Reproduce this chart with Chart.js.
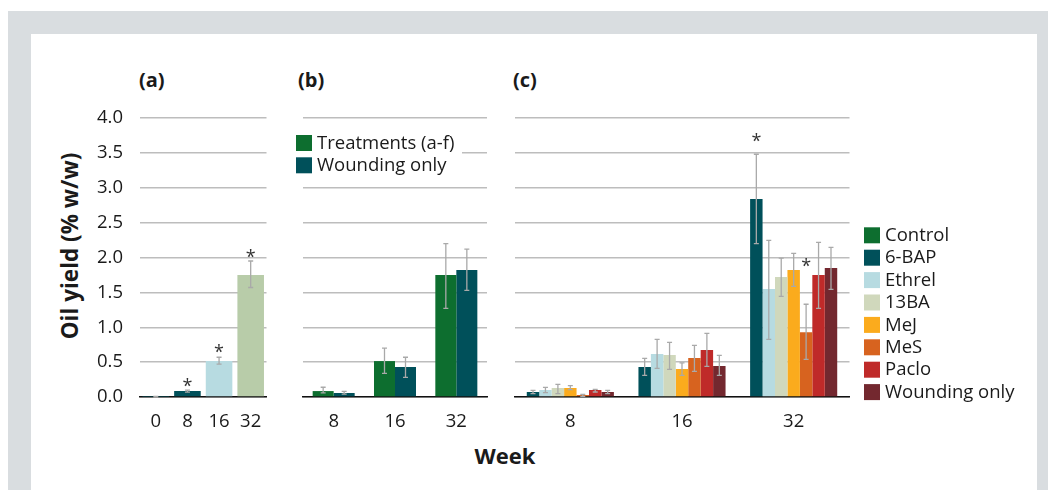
<!DOCTYPE html>
<html>
<head>
<meta charset="utf-8">
<script src="https://cdn.jsdelivr.net/npm/chart.js@4.4.1/dist/chart.umd.min.js"></script>
<style>
  body { margin: 0; width: 1048px; height: 490px; background: #fff; position: relative; overflow: hidden; font-family: 'Open Sans', sans-serif; }
  .frame { position: absolute; left: 8px; top: 11px; width: 1040px; height: 479px; background: #d9dde0; }
  .inner { position: absolute; left: 31px; top: 34px; width: 1006px; height: 456px; background: #fff; }
  canvas { position: absolute; }
  .lbl { position: absolute; font-weight: 700; font-size: 20px; line-height: 20px; color: #1a1a1a; }
  .ytitle { position: absolute; font-weight: 700; font-size: 22.5px; line-height: 22px; color: #1a1a1a; white-space: nowrap;
            left: 70px; top: 246px; transform: translate(-50%, -50%) rotate(-90deg); }
  .xtitle { position: absolute; font-weight: 700; font-size: 22px; line-height: 22px; color: #1a1a1a; left: 505px; top: 455px; transform: translate(-50%, -50%); }
</style>
</head>
<body>
<div class="frame"></div>
<div class="inner"></div>
<div class="lbl" style="left:139px;top:70px">(a)</div>
<div class="lbl" style="left:298px;top:70px">(b)</div>
<div class="lbl" style="left:513px;top:70px">(c)</div>
<div class="ytitle">Oil yield (% w/w)</div>
<div class="xtitle">Week</div>
<canvas id="chartA" width="235" height="345" style="left:40px;top:100px"></canvas>
<canvas id="chartB" width="210" height="345" style="left:290px;top:100px"></canvas>
<canvas id="chartC" width="530" height="345" style="left:500px;top:100px"></canvas>
<script>
// (a) oil yield over time
const weeksA = ['0', '8', '16', '32'];
const aMean = [0.005, 0.085, 0.515, 1.75];
const aLow = [0.0, 0.07, 0.47, 1.57];
const aHigh = [0.01, 0.10, 0.57, 1.95];
const aStar = [null, 0.22, 0.70, 2.06];

// (b) treatments vs wounding only
const weeksB = ['8', '16', '32'];
const treatMean = [0.085, 0.515, 1.75];
const treatLow = [0.06, 0.34, 1.27];
const treatHigh = [0.14, 0.70, 2.20];
const woundMean = [0.057, 0.43, 1.82];
const woundLow = [0.04, 0.28, 1.53];
const woundHigh = [0.08, 0.57, 2.12];

// (c) individual treatments
const weeksC = ['8', '16', '32'];
const controlMean = [null, null, null];
const bapMean = [0.072, 0.43, 2.84];
const bapLow = [0.048, 0.31, 2.20];
const bapHigh = [0.096, 0.554, 3.48];
const bapStar = [null, null, 3.73];
const ethrelMean = [0.10, 0.616, 1.55];
const ethrelLow = [0.062, 0.41, 0.827];
const ethrelHigh = [0.139, 0.827, 2.246];
const ba13Mean = [0.129, 0.602, 1.72];
const ba13Low = [0.048, 0.397, 1.443];
const ba13High = [0.18, 0.784, 1.99];
const mejMean = [0.129, 0.40, 1.82];
const mejLow = [0.105, 0.31, 1.587];
const mejHigh = [0.162, 0.49, 2.06];
const mesMean = [0.029, 0.56, 0.93];
const mesLow = [0.01, 0.368, 0.54];
const mesHigh = [0.038, 0.74, 1.33];
const mesStar = [null, null, 1.93];
const pacloMean = [0.10, 0.674, 1.75];
const pacloLow = [0.072, 0.44, 1.27];
const pacloHigh = [0.11, 0.913, 2.217];
const woundCMean = [0.072, 0.444, 1.85];
const woundCLow = [0.048, 0.31, 1.544];
const woundCHigh = [0.096, 0.597, 2.146];

const yTicks = [0, 0.5, 1, 1.5, 2, 2.5, 3, 3.5, 4];

const FONT = "'Open Sans', sans-serif";
const TEXT = '#1a1a1a';

// error bars + significance stars, positioned from the bar elements
const errorBars = {
  id: 'errorBars',
  afterDatasetsDraw(chart) {
    const ctx = chart.ctx;
    const yScale = chart.scales.y;
    ctx.save();
    chart.data.datasets.forEach((ds, i) => {
      const meta = chart.getDatasetMeta(i);
      if (meta.hidden || !ds.errLow) return;
      meta.data.forEach((bar, j) => {
        if (ds.data[j] == null) return;
        const x = bar.x;
        const y1 = yScale.getPixelForValue(ds.errLow[j]);
        const y2 = yScale.getPixelForValue(ds.errHigh[j]);
        ctx.strokeStyle = '#a9a9a9';
        ctx.lineWidth = 1.3;
        ctx.beginPath();
        ctx.moveTo(x, y1); ctx.lineTo(x, y2);
        ctx.moveTo(x - 2.5, y1); ctx.lineTo(x + 2.5, y1);
        ctx.moveTo(x - 2.5, y2); ctx.lineTo(x + 2.5, y2);
        ctx.stroke();
        if (ds.stars && ds.stars[j] != null) {
          ctx.fillStyle = '#333';
          ctx.font = '18px ' + FONT;
          ctx.textAlign = 'center';
          ctx.textBaseline = 'alphabetic';
          ctx.fillText('*', x, yScale.getPixelForValue(ds.stars[j]) + 10);
        }
      });
    });
    ctx.restore();
  }
};

// square-box legend drawn at fixed spots
const boxLegend = {
  id: 'boxLegend',
  afterDraw(chart, args, opts) {
    if (!opts.show) return;
    const ctx = chart.ctx;
    const items = chart.data.datasets;
    ctx.save();
    if (opts.clear) {
      ctx.fillStyle = '#fff';
      ctx.fillRect(opts.x - 2, opts.y - 3, opts.clear, items.length * opts.row + 2);
    }
    ctx.font = '18.5px ' + FONT;
    ctx.textBaseline = 'middle';
    ctx.textAlign = 'left';
    items.forEach((ds, k) => {
      const top = opts.y + k * opts.row;
      ctx.fillStyle = ds.backgroundColor;
      ctx.fillRect(opts.x, top, 16, 16);
      ctx.fillStyle = TEXT;
      ctx.fillText(ds.label, opts.x + 21, top + 8.5);
    });
    ctx.restore();
  }
};

function makeOptions(yWidth, padRight, showYLabels, legend) {
  return {
    responsive: false,
    animation: false,
    events: [],
    layout: { autoPadding: false, padding: { left: 0, top: 18, right: padRight, bottom: 0 } },
    datasets: { bar: { skipNull: true } },
    plugins: {
      legend: { display: false },
      tooltip: { enabled: false },
      boxLegend: legend || { show: false }
    },
    scales: {
      x: {
        grid: { display: false, drawTicks: false },
        border: { display: true, color: '#111', width: 1.6 },
        ticks: { color: TEXT, font: { size: 18.5, family: FONT }, padding: 14, maxRotation: 0, autoSkip: false },
        afterFit: s => { s.height = 48; s.paddingLeft = 0; s.paddingRight = 0; }
      },
      y: {
        min: 0,
        max: 4,
        afterBuildTicks: s => { s.ticks = yTicks.map(v => ({ value: v })); },
        grid: { color: '#bdbdbd', lineWidth: 1.4, drawTicks: false },
        border: { display: false },
        ticks: {
          display: showYLabels,
          color: TEXT,
          font: { size: 18.5, family: FONT },
          padding: 17,
          callback: v => Number(v).toFixed(1)
        },
        afterFit: s => { s.width = yWidth; s.paddingTop = 0; s.paddingBottom = 0; }
      }
    }
  };
}

new Chart(document.getElementById('chartA'), {
  type: 'bar',
  data: {
    labels: weeksA,
    datasets: [{
      label: 'Oil yield',
      data: aMean,
      errLow: aLow,
      errHigh: aHigh,
      stars: aStar,
      backgroundColor: ['#00505a', '#00505a', '#b7dbe1', '#b8cca9'],
      barPercentage: 0.84,
      categoryPercentage: 1
    }]
  },
  options: makeOptions(100, 8.5, true),
  plugins: [errorBars]
});

new Chart(document.getElementById('chartB'), {
  type: 'bar',
  data: {
    labels: weeksB,
    datasets: [
      { label: 'Treatments (a-f)', data: treatMean, errLow: treatLow, errHigh: treatHigh, backgroundColor: '#0d6e2f', barPercentage: 1, categoryPercentage: 0.685 },
      { label: 'Wounding only', data: woundMean, errLow: woundLow, errHigh: woundHigh, backgroundColor: '#00505a', barPercentage: 1, categoryPercentage: 0.685 }
    ]
  },
  options: makeOptions(13, 13, false, { show: true, x: 6, y: 35, row: 22.3, clear: 168 }),
  plugins: [errorBars, boxLegend]
});

const cSeries = [
  ['Control', controlMean, null, null, null, '#0d6e2f'],
  ['6-BAP', bapMean, bapLow, bapHigh, bapStar, '#00505a'],
  ['Ethrel', ethrelMean, ethrelLow, ethrelHigh, null, '#b7dbe1'],
  ['13BA', ba13Mean, ba13Low, ba13High, null, '#d0d8bc'],
  ['MeJ', mejMean, mejLow, mejHigh, null, '#fbab1d'],
  ['MeS', mesMean, mesLow, mesHigh, mesStar, '#d7631f'],
  ['Paclo', pacloMean, pacloLow, pacloHigh, null, '#bf2a29'],
  ['Wounding only', woundCMean, woundCLow, woundCHigh, null, '#73282f']
];

new Chart(document.getElementById('chartC'), {
  type: 'bar',
  data: {
    labels: weeksC,
    datasets: cSeries.map(([label, data, lo, hi, stars, color]) => ({
      label, data, errLow: lo, errHigh: hi, stars,
      backgroundColor: color,
      barPercentage: 1,
      categoryPercentage: 0.78
    }))
  },
  options: makeOptions(14.5, 180.5, false, { show: true, x: 364, y: 127.3, row: 22.4 }),
  plugins: [errorBars, boxLegend]
});
</script>
</body>
</html>
